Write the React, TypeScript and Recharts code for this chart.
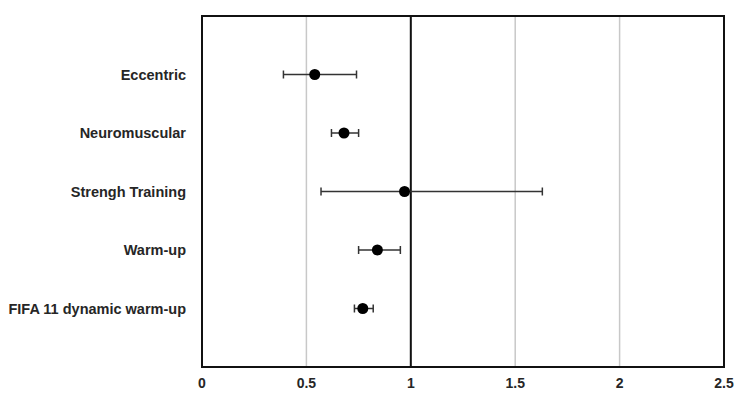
import { ScatterChart, Scatter, XAxis, YAxis, CartesianGrid, ErrorBar, ReferenceLine, ReferenceArea } from 'recharts'

const categories = ['Eccentric', 'Neuromuscular', 'Strengh Training', 'Warm-up', 'FIFA 11 dynamic warm-up']
const estimates = [0.54, 0.68, 0.97, 0.84, 0.77]
const lower = [0.39, 0.62, 0.57, 0.75, 0.73]
const upper = [0.74, 0.75, 1.63, 0.95, 0.82]
const xTicks = [0, 0.5, 1, 1.5, 2, 2.5]

const data = categories.map((name, i) => ({
  name,
  x: estimates[i],
  y: i + 1,
  err: [estimates[i] - lower[i], upper[i] - estimates[i]],
}))

const FONT = '"Liberation Sans", Arial, sans-serif'

// slightly larger filled dot than the default scatter symbol
const Dot = (props: { cx?: number; cy?: number }) => <circle cx={props.cx} cy={props.cy} r={5.5} fill="#000" />

export default function App() {
  return (
    <div style={{ width: 750, height: 411, background: '#fff' }}>
      <style>{'body{margin:0}'}</style>
      <ScatterChart width={750} height={411} margin={{ top: 16, right: 26, bottom: 0, left: 0 }}>
        <CartesianGrid horizontal={false} vertical stroke="#c8c8c8" strokeWidth={1.5} />
        <XAxis
          type="number"
          dataKey="x"
          domain={[0, 2.5]}
          ticks={xTicks}
          tickFormatter={(v: number) => String(v)}
          axisLine={false}
          tickLine={false}
          tickSize={0}
          tickMargin={11}
          height={44}
          tick={{ fill: '#262626', fontSize: 14, fontWeight: 700, fontFamily: FONT }}
        />
        <YAxis
          type="number"
          dataKey="y"
          domain={[0, 6]}
          reversed
          ticks={[1, 2, 3, 4, 5]}
          tickFormatter={(v: number) => categories[v - 1] ?? ''}
          axisLine={false}
          tickLine={false}
          tickSize={0}
          tickMargin={16}
          width={202}
          tick={{ fill: '#262626', fontSize: 14.5, fontWeight: 700, fontFamily: FONT }}
        />
        <ReferenceArea x1={0} x2={2.5} y1={0} y2={6} fill="none" stroke="#111" strokeWidth={2} ifOverflow="visible" />
        <ReferenceLine x={1} stroke="#111" strokeWidth={2} />
        <Scatter data={data} fill="#000" isAnimationActive={false} shape={<Dot />}>
          <ErrorBar dataKey="err" direction="x" width={4} stroke="#333" strokeWidth={1.5} isAnimationActive={false} />
        </Scatter>
      </ScatterChart>
    </div>
  )
}
